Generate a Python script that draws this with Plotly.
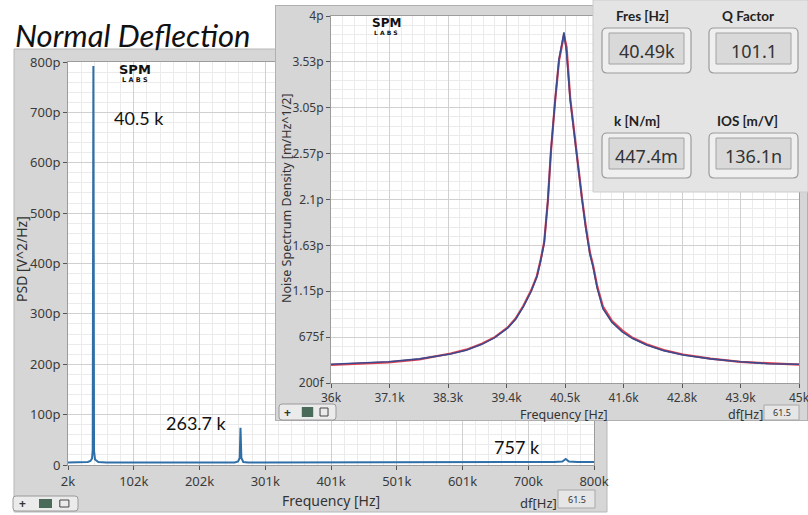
import plotly.graph_objects as go

W, H = 808, 515

# ---------------- data ----------------
# Main PSD spectrum: frequency [kHz], PSD [pV^2/Hz]
psd_freq_khz = [2, 15, 25, 32, 36, 38.5, 39.5, 40.5, 41.5, 43, 48, 60, 90, 130, 170,
                210, 240, 255, 260, 262.5, 263.7, 265, 268, 275, 300, 350, 400, 430,
                445, 470, 500, 550, 600, 650, 700, 740, 752, 757, 762, 775, 800]
psd_value_p = [5, 5, 5, 6, 8, 13, 30, 792, 28, 11, 6, 5, 5, 5, 5,
               5, 5, 5, 7, 14, 74, 14, 6, 5, 5, 5, 5, 6,
               5, 6, 5, 6, 5, 6, 5, 6, 7, 12, 7, 6, 6]
main_xtick_vals = [2, 101.75, 201.5, 301.25, 401, 500.75, 600.5, 700.25, 800]
main_xtick_text = ['2k', '102k', '202k', '301k', '401k', '501k', '601k', '700k', '800k']
main_ytick_vals = [0, 100, 200, 300, 400, 500, 600, 700, 800]
main_ytick_text = ['0', '100p', '200p', '300p', '400p', '500p', '600p', '700p', '800p']

# Inset noise spectrum density: frequency [kHz], NSD [pm/Hz^1/2]
nsd_freq_khz = [36.0, 36.5, 37.1, 37.7, 38.3, 38.6, 38.9, 39.15, 39.4, 39.55,
                39.7, 39.85, 39.96, 40.03, 40.1, 40.17, 40.23, 40.31, 40.385, 40.48,
                40.53, 40.6, 40.71, 40.83, 40.9, 40.98, 41.04, 41.12, 41.23, 41.4,
                41.6, 41.8, 42.07, 42.4, 42.77, 43.3, 43.87, 44.4, 45.0]
nsd_fit_p = [0.394, 0.405, 0.42, 0.45, 0.50, 0.54, 0.60, 0.67, 0.77, 0.86,
             0.99, 1.15, 1.30, 1.46, 1.65, 2.09, 2.61, 3.13, 3.55, 3.83,
             3.62, 3.13, 2.61, 2.09, 1.80, 1.53, 1.40, 1.18, 0.97, 0.83,
             0.73, 0.66, 0.593, 0.535, 0.49, 0.45, 0.42, 0.40, 0.394]
nsd_meas_p = [0.388, 0.400, 0.414, 0.444, 0.505, 0.545, 0.606, 0.675, 0.776, 0.868,
              1.00, 1.16, 1.31, 1.47, 1.66, 2.08, 2.60, 3.12, 3.54, 3.80,
              3.68, 3.15, 2.63, 2.10, 1.82, 1.55, 1.42, 1.20, 0.99, 0.845,
              0.745, 0.668, 0.600, 0.540, 0.495, 0.452, 0.418, 0.402, 0.390]
ins_xtick_vals = [36, 37.125, 38.25, 39.375, 40.5, 41.625, 42.75, 43.875, 45]
ins_xtick_text = ['36k', '37.1k', '38.3k', '39.4k', '40.5k', '41.6k', '42.8k', '43.9k', '45k']
ins_ytick_vals = [0.2, 0.675, 1.15, 1.625, 2.1, 2.575, 3.05, 3.525, 4.0]
ins_ytick_text = ['200f', '675f', '1.15p', '1.63p', '2.1p', '2.57p', '3.05p', '3.53p', '4p']

peak_labels = ['40.5 k', '263.7 k', '757 k']
ind_labels = ['Fres [Hz]', 'Q Factor', 'k [N/m]', 'IOS [m/V]']
ind_values = ['40.49k', '101.1', '447.4m', '136.1n']
df_value = '61.5'


def px(x):
    return x / W


def py(y):
    return 1 - y / H


PANEL = '#d6d6d6'
GRID = '#d0d0d0'
MINOR = '#ebebeb'
TICKFONT = dict(family='Noto Sans, sans-serif', size=13, color='#3a3a3a')
TICKFONT_S = dict(family='Noto Sans, sans-serif', size=12, color='#3a3a3a')

fig = go.Figure()
fig.add_trace(go.Scatter(x=psd_freq_khz, y=psd_value_p, mode='lines',
                         line=dict(color='#2f6fa8', width=2), xaxis='x', yaxis='y',
                         hoverinfo='skip', showlegend=False))
fig.add_trace(go.Scatter(x=[], y=[], xaxis='x2', yaxis='y2', showlegend=False, hoverinfo='skip'))
fig.add_trace(go.Scatter(x=nsd_freq_khz, y=nsd_meas_p, mode='lines',
                         line=dict(color='#e2404e', width=2.2), xaxis='x3', yaxis='y3',
                         hoverinfo='skip', showlegend=False))
fig.add_trace(go.Scatter(x=nsd_freq_khz, y=nsd_fit_p, mode='lines',
                         line=dict(color='#3b4a8e', width=1.6), xaxis='x3', yaxis='y3',
                         hoverinfo='skip', showlegend=False))

axc = dict(showline=True, linecolor='#9c9c9c', linewidth=1, mirror=True, ticks='outside',
           ticklen=4, tickcolor='#555', tickwidth=1, showgrid=True, gridcolor=GRID, gridwidth=1,
           zeroline=False, fixedrange=True, automargin=False, tickfont=TICKFONT, tickmode='array',
           ticklabeloverflow='allow')

fig.update_layout(
    width=W, height=H, margin=dict(l=0, r=0, t=0, b=0), template='none',
    paper_bgcolor='white', plot_bgcolor='white', showlegend=False,
    xaxis=dict(axc, domain=[px(68), px(594)], range=[2, 800], anchor='y',
               tickvals=main_xtick_vals, ticktext=main_xtick_text,
               minor=dict(tick0=2, dtick=19.95, showgrid=True, gridcolor=MINOR, ticks='')),
    yaxis=dict(axc, domain=[py(465), py(62)], range=[0, 800], anchor='x',
               tickvals=main_ytick_vals, ticktext=main_ytick_text,
               minor=dict(tick0=0, dtick=20, showgrid=True, gridcolor=MINOR, ticks='')),
    xaxis2=dict(domain=[px(275), 1.0], range=[0, 1], visible=False, anchor='y2', fixedrange=True),
    yaxis2=dict(domain=[py(421), py(5)], range=[0, 1], visible=False, anchor='x2', fixedrange=True),
    xaxis3=dict(axc, domain=[px(331), px(799)], range=[36, 45], anchor='y3',
                tickvals=ins_xtick_vals, ticktext=ins_xtick_text, tickfont=TICKFONT_S,
                minor=dict(tick0=36, dtick=0.225, showgrid=True, gridcolor=MINOR, ticks='')),
    yaxis3=dict(axc, domain=[py(383), py(16)], range=[0.2, 4.0], anchor='x3',
                tickvals=ins_ytick_vals, ticktext=ins_ytick_text, tickfont=TICKFONT_S,
                minor=dict(tick0=0.2, dtick=0.095, showgrid=True, gridcolor=MINOR, ticks='')),
)

shapes = []


def rect(x0, y0, x1, y1, fill, line='rgba(0,0,0,0)', lw=1, layer='below'):
    shapes.append(dict(type='rect', xref='paper', yref='paper', x0=px(x0), x1=px(x1),
                       y0=py(y1), y1=py(y0), fillcolor=fill, line=dict(color=line, width=lw),
                       layer=layer))


def rrect(x0, y0, x1, y1, r, fill, line, lw=1, layer='above'):
    X = lambda v: px(v)
    Y = lambda v: py(v)
    p = (f"M {X(x0+r)},{Y(y0)} L {X(x1-r)},{Y(y0)} Q {X(x1)},{Y(y0)} {X(x1)},{Y(y0+r)} "
         f"L {X(x1)},{Y(y1-r)} Q {X(x1)},{Y(y1)} {X(x1-r)},{Y(y1)} "
         f"L {X(x0+r)},{Y(y1)} Q {X(x0)},{Y(y1)} {X(x0)},{Y(y1-r)} "
         f"L {X(x0)},{Y(y0+r)} Q {X(x0)},{Y(y0)} {X(x0+r)},{Y(y0)} Z")
    shapes.append(dict(type='path', xref='paper', yref='paper', path=p, fillcolor=fill,
                       line=dict(color=line, width=lw), layer=layer))


# main panel and white plot area
rect(14, 49, 607, 512, PANEL, '#b8b8b8')
rect(68, 62, 594, 465, 'white')
# inset panel (drawn in dummy subplot so that it covers main plot content)
shapes.append(dict(type='rect', xref='x2', yref='y2', x0=0, x1=1, y0=0, y1=1,
                   fillcolor=PANEL, line=dict(color='#b0b0b0', width=2), layer='below'))
# indicator panel
rect(593, 0, 808, 192, '#e4e4e4', '#cccccc', layer='above')
boxes = [(602, 28, 691, 73), (709, 28, 798, 73), (602, 133, 691, 178), (709, 133, 798, 178)]
for (x0, y0, x1, y1) in boxes:
    rrect(x0, y0, x1, y1, 5, '#efefef', '#9c9c9c', 1.2)
    rect(x0 + 7, y0 + 5, x1 - 7, y1 - 9, '#d9d9d9', '#a2a2a2', layer='above')
# df boxes
rect(558, 490, 595, 508, '#e6e6e6', '#a8a8a8', layer='above')
rect(764, 405, 799, 420, '#e6e6e6', '#a8a8a8', layer='above')
# toolbars
for (x0, y0, x1, y1) in [(13, 496, 78, 511), (279, 404, 336, 420)]:
    rrect(x0, y0, x1, y1, 3, '#ebebeb', '#9a9a9a', 1)
    w = x1 - x0
    rect(x0 + w * 0.40, y0 + 3, x0 + w * 0.60, y1 - 3, '#4a6a5a', layer='above')
    rect(x0 + w * 0.72, y0 + 4, x0 + w * 0.86, y1 - 4, 'rgba(0,0,0,0)', '#444', layer='above')

ann = []


def text(x, y, s, size=13, color='#333', family='Noto Sans, sans-serif', xa='center', ya='middle', angle=0):
    ann.append(dict(x=px(x), y=py(y), xref='paper', yref='paper', text=s, showarrow=False,
                    xanchor=xa, yanchor=ya, textangle=angle,
                    font=dict(size=size, color=color, family=family)))


text(13, 35, '<i>Normal Deflection</i>', size=31, color='#111', family='Lato, sans-serif', xa='left')
# logos
text(135, 70, '<b>SPM</b>', size=13, color='#111', family='DejaVu Sans, sans-serif')
text(135, 80, '<b>L A B S</b>', size=6.5, color='#111', family='DejaVu Sans, sans-serif')
text(386, 23.5, '<b>SPM</b>', size=12, color='#111', family='DejaVu Sans, sans-serif')
text(386, 32.5, '<b>L A B S</b>', size=6, color='#111', family='DejaVu Sans, sans-serif')
# peak labels
text(139, 118, peak_labels[0], size=18, color='#111', family='Lato, sans-serif')
text(196, 423, peak_labels[1], size=18, color='#111', family='Lato, sans-serif')
text(517, 447, peak_labels[2], size=18, color='#111', family='Lato, sans-serif')
# axis titles
text(21, 259, 'PSD [V^2/Hz]', size=14, angle=-90)
text(331, 500, 'Frequency [Hz]', size=14)
text(286, 198, 'Noise Spectrum Density [m/Hz^1/2]', size=12.5, angle=-90)
text(564, 414, 'Frequency [Hz]', size=12.5)
text(538, 503, 'df[Hz]', size=13)
text(576.5, 499, df_value, size=9)
text(745, 414, 'df[Hz]', size=12.5)
text(781.5, 412, df_value, size=9)
# toolbar glyphs
text(22, 503.5, '<b>+</b>', size=12, color='#333')
text(287, 412, '<b>+</b>', size=12, color='#333')
# indicators
lab_pos = [(642, 16), (748, 16), (637, 121), (747, 121)]
val_pos = [(646.5, 51), (753.5, 51), (646.5, 156), (753.5, 156)]
for s, (x, y) in zip(ind_labels, lab_pos):
    text(x, y, '<b>' + s + '</b>', size=13.5, color='#222', family='Lato, sans-serif')
for s, (x, y) in zip(ind_values, val_pos):
    text(x, y, s, size=18, color='#333')

fig.update_layout(shapes=shapes, annotations=ann)
fig.write_html('out.html', config={'displayModeBar': False},
               post_script="document.body.style.margin='0px';")
